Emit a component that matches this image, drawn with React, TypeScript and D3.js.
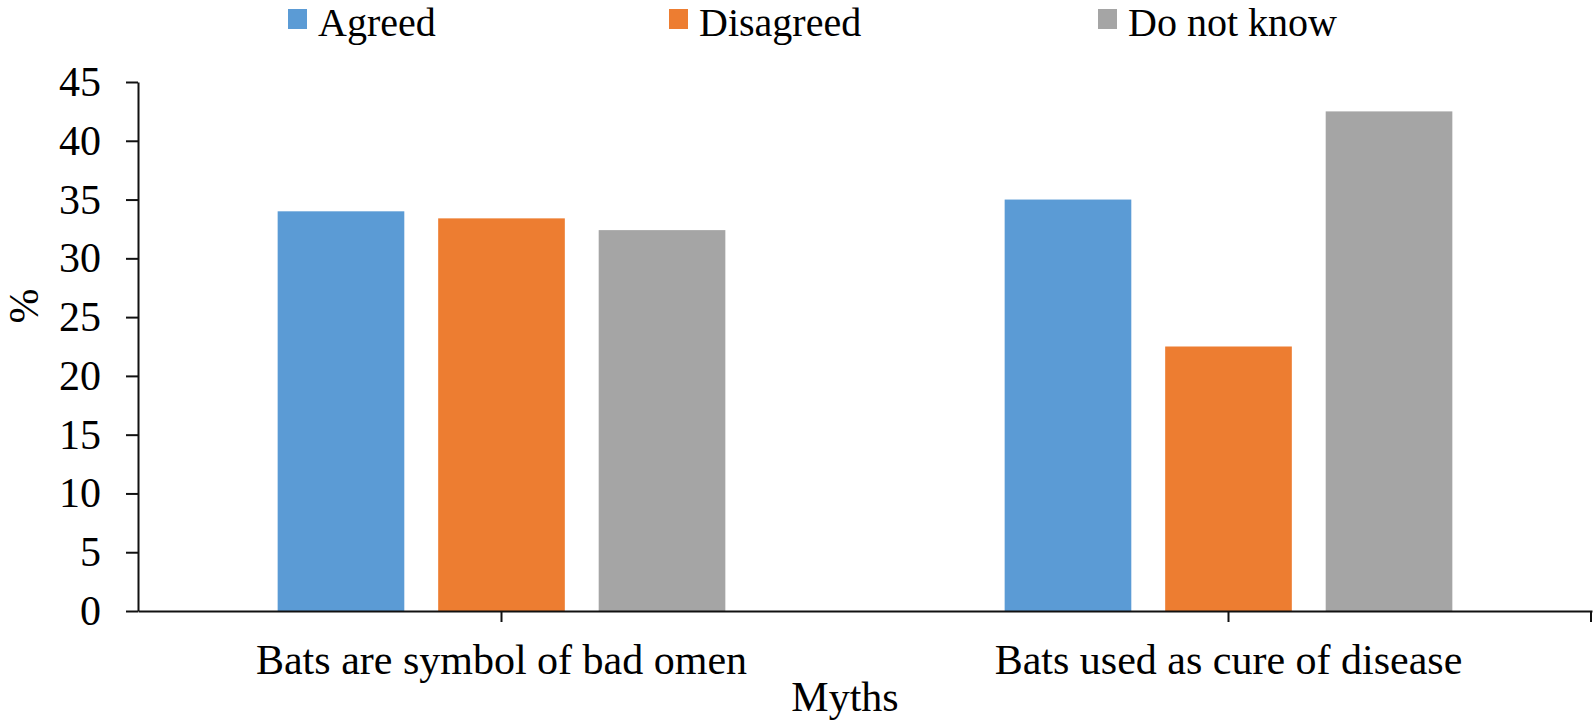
import React, { useEffect, useRef } from 'react';
import * as d3 from 'd3';

// values (percent)
const categories = ['Bats are symbol of bad omen', 'Bats used as cure of disease'];
const seriesNames = ['Agreed', 'Disagreed', 'Do not know'];
const agreed = [34.0, 35.0];
const disagreed = [33.4, 22.5];
const doNotKnow = [32.4, 42.5];
const yTicks = [0, 5, 10, 15, 20, 25, 30, 35, 40, 45];
const colors = ['#5B9BD5', '#ED7D31', '#A5A5A5'];

const App = () => {
  const svgRef = useRef<SVGSVGElement>(null);

  useEffect(() => {
    const svg = d3.select(svgRef.current);
    const width = 1594;
    const height = 723;
    const margin = { top: 82, right: 2, bottom: 112, left: 138 };
    const font = '"Liberation Serif", "Times New Roman", serif';

    svg.attr('width', width).attr('height', height);

    const values = [agreed, disagreed, doNotKnow];
    const rows = categories.map((c, i) => ({
      category: c,
      bars: seriesNames.map((s, j) => ({ series: s, value: values[j][i] })),
    }));

    const x0 = d3.scaleBand().domain(categories).range([margin.left, width - margin.right]).padding(0);
    const x1 = d3
      .scaleBand()
      .domain(seriesNames)
      .range([0, x0.bandwidth()])
      .paddingInner(0.211)
      .paddingOuter(0.87);
    const y = d3.scaleLinear().domain([0, 45]).range([height - margin.bottom, margin.top]);
    const color = d3.scaleOrdinal<string>().domain(seriesNames).range(colors);

    // bars
    svg
      .append('g')
      .selectAll('g')
      .data(rows)
      .enter()
      .append('g')
      .attr('transform', d => `translate(${x0(d.category)},0)`)
      .selectAll('rect')
      .data(d => d.bars)
      .enter()
      .append('rect')
      .attr('x', d => x1(d.series) as number)
      .attr('y', d => y(d.value))
      .attr('width', x1.bandwidth())
      .attr('height', d => y(0) - y(d.value))
      .attr('fill', d => color(d.series));

    // y axis
    const yAxis = svg
      .append('g')
      .attr('transform', `translate(${margin.left},0)`)
      .call(d3.axisLeft(y).tickValues(yTicks).tickSize(12).tickSizeOuter(0).tickPadding(25));
    yAxis.selectAll('line').attr('stroke', '#111').attr('stroke-width', 2);
    yAxis.select('.domain').attr('stroke', '#111').attr('stroke-width', 2);
    yAxis
      .selectAll('text')
      .style('font-family', font)
      .style('font-size', '42px')
      .attr('fill', '#000');

    // x axis
    const xAxis = svg
      .append('g')
      .attr('transform', `translate(0,${y(0)})`)
      .call(d3.axisBottom(x0).tickSize(11).tickSizeOuter(0));
    xAxis.selectAll('text').remove();
    xAxis.selectAll('line').attr('stroke', '#111').attr('stroke-width', 2);
    xAxis.select('.domain').attr('stroke', '#111').attr('stroke-width', 2);
    xAxis
      .append('line')
      .attr('x1', x0.range()[1] - 1)
      .attr('x2', x0.range()[1] - 1)
      .attr('y1', 0)
      .attr('y2', 11)
      .attr('stroke', '#111')
      .attr('stroke-width', 2);

    // category labels
    svg
      .append('g')
      .selectAll('text')
      .data(categories)
      .enter()
      .append('text')
      .attr('x', d => (x0(d) as number) + x0.bandwidth() / 2)
      .attr('y', 674)
      .attr('text-anchor', 'middle')
      .style('font-family', font)
      .style('font-size', '42px')
      .text(d => d);

    // axis titles
    svg
      .append('text')
      .attr('x', 845)
      .attr('y', 711)
      .attr('text-anchor', 'middle')
      .style('font-family', font)
      .style('font-size', '42px')
      .text('Myths');

    svg
      .append('text')
      .attr('transform', 'translate(38,306) rotate(-90)')
      .attr('text-anchor', 'middle')
      .style('font-family', font)
      .style('font-size', '42px')
      .text('%');

    // legend
    const legendX = [288, 669, 1098];
    const legend = svg
      .selectAll('.legend')
      .data(seriesNames)
      .enter()
      .append('g')
      .attr('class', 'legend')
      .attr('transform', (d, i) => `translate(${legendX[i]},0)`);

    legend
      .append('rect')
      .attr('x', 0)
      .attr('y', 9)
      .attr('width', 19)
      .attr('height', 20)
      .attr('fill', d => color(d));

    legend
      .append('text')
      .attr('x', 30)
      .attr('y', 36)
      .style('font-family', font)
      .style('font-size', '40px')
      .text(d => d);

    return () => {
      svg.selectAll('*').remove();
    };
  }, []);

  return <svg ref={svgRef} style={{ position: 'absolute', left: 0, top: 0, background: '#fff' }}></svg>;
};

export default App;
